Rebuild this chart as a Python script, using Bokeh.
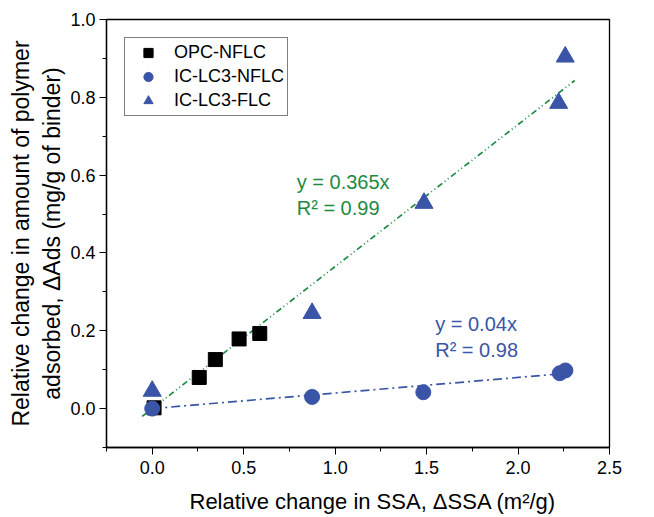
from bokeh.plotting import figure
from bokeh.models import Range1d, SingleIntervalTicker, Legend, LegendItem, Label, Title, CustomJSTickFormatter
from bokeh.embed import file_html
from bokeh.resources import INLINE

# Data
opc_x = [0.01, 0.257, 0.345, 0.475, 0.588]
opc_y = [0.002, 0.080, 0.126, 0.179, 0.193]
nflc_x = [0.0, 0.874, 1.482, 2.228, 2.259]
nflc_y = [0.0, 0.030, 0.042, 0.091, 0.098]
flc_x = [0.0, 0.874, 1.486, 2.222, 2.258]
flc_y = [0.045, 0.245, 0.528, 0.785, 0.904]
fit_green_slope = 0.365
fit_green_x = [-0.055, 2.31]
fit_blue_slope = 0.04
fit_blue_x = [0.0, 2.26]
x_title = "Relative change in SSA, \u0394SSA (m\u00b2/g)"
y_title = "Relative change in amount of polymer\nadsorbed, \u0394Ads (mg/g of binder)"

GREEN = "#1e8a45"
BLUE = "#3a54a8"
FONT = "Liberation Sans"

p = figure(width=654, height=517, output_backend="svg", toolbar_location=None,
           x_range=Range1d(-0.25, 2.5), y_range=Range1d(-0.1, 1.0),
           min_border_left=106, min_border_right=45, min_border_top=19, min_border_bottom=70)
p.grid.visible = False
p.outline_line_color = "black"
p.outline_line_width = 1.3
p.background_fill_color = "white"
p.border_fill_color = "white"

p.xaxis.ticker = SingleIntervalTicker(interval=0.5, num_minor_ticks=2)
p.yaxis.ticker = SingleIntervalTicker(interval=0.2, num_minor_ticks=2)
for ax in (p.xaxis, p.yaxis):
    ax.major_tick_in = 0
    ax.major_tick_out = 7
    ax.minor_tick_in = 0
    ax.minor_tick_out = 4
    ax.axis_line_color = "black"
    ax.axis_line_width = 1.3
    ax.major_tick_line_color = "black"
    ax.minor_tick_line_color = "black"
    ax.major_label_text_font = FONT
    ax.major_label_text_font_size = "18px"
    ax.major_label_text_color = "black"
    ax.axis_label_text_font = FONT
    ax.axis_label_text_font_size = "23px"
    ax.axis_label_text_font_style = "normal"
    ax.axis_label_text_color = "black"
p.xaxis.formatter = CustomJSTickFormatter(code="return tick.toFixed(1);")
p.yaxis.formatter = CustomJSTickFormatter(code="return tick.toFixed(1);")
p.yaxis.axis_label = y_title
p.xaxis.major_label_standoff = 6
p.yaxis.major_label_standoff = 4
p.yaxis.axis_label_standoff = 2

# x-axis title, placed as a title panel below the axis (a small spacer first)
p.add_layout(Title(text=" ", text_font=FONT, text_font_size="7px", standoff=0), "below")
p.add_layout(Title(text=x_title, text_font=FONT, text_font_size="22px", text_font_style="normal",
                   text_color="black", align="left", offset=83, standoff=2), "below")

# fit lines
gy = [fit_green_slope * x for x in fit_green_x]
by = [fit_blue_slope * x for x in fit_blue_x]
p.line(fit_green_x, gy, line_color=GREEN, line_width=1.7, line_dash="6 3 1 3 1 3")
p.line(fit_blue_x, by, line_color=BLUE, line_width=1.7, line_dash="9 4 2 4")

r1 = p.scatter(opc_x, opc_y, marker="square", size=14, fill_color="black", line_color="black")
r3 = p.scatter(flc_x, flc_y, marker="triangle", size=18, fill_color=BLUE, line_color=BLUE)
r2 = p.scatter(nflc_x, nflc_y, marker="circle", size=15, fill_color=BLUE, line_color=BLUE)

legend = Legend(items=[LegendItem(label="OPC-NFLC", renderers=[r1]),
                       LegendItem(label="IC-LC3-NFLC", renderers=[r2]),
                       LegendItem(label="IC-LC3-FLC", renderers=[r3])],
                location="top_left")
legend.border_line_color = "black"
legend.border_line_width = 1
legend.label_text_font = FONT
legend.label_text_font_size = "18px"
legend.label_text_color = "black"
legend.margin = 18
legend.padding = 3
legend.spacing = 1
legend.label_height = 23
legend.glyph_height = 23
legend.glyph_width = 40
legend.label_standoff = 6
legend.background_fill_alpha = 1
p.add_layout(legend)

for txt, x, y, c in [("y = 0.365x", 0.79, 0.582, GREEN), ("R\u00b2 = 0.99", 0.79, 0.515, GREEN),
                     ("y = 0.04x", 1.547, 0.217, BLUE), ("R\u00b2 = 0.98", 1.547, 0.150, BLUE)]:
    p.add_layout(Label(x=x, y=y, text=txt, text_color=c, text_font=FONT,
                       text_font_size="20px", text_baseline="middle"))

open("out.html", "w").write(file_html(p, INLINE))
